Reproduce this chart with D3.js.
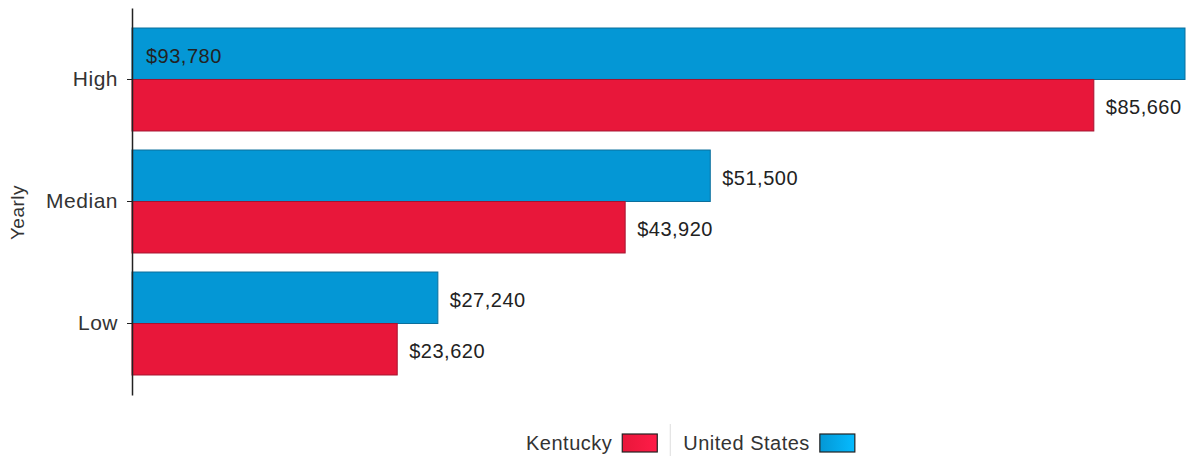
<!DOCTYPE html>
<html>
<head>
<meta charset="utf-8">
<script src="https://cdn.jsdelivr.net/npm/d3@7"></script>
<style>
  body { margin: 0; background: #fff; }
  svg text { font-family: "Liberation Sans", Arial, sans-serif; fill: #222; letter-spacing: 0.5px; }
</style>
</head>
<body>
<div id="chart"></div>
<script>
// levels on the y axis, top to bottom
var levels = ["High", "Median", "Low"]
var series = ["United States", "Kentucky"]
var usValues = [93780, 51500, 27240]
var kyValues = [85660, 43920, 23620]
var legendOrder = ["Kentucky", "United States"]

var colors = { "United States": "#0497d5", "Kentucky": "#e8173a" }
var strokes = { "United States": "#0b6f9c", "Kentucky": "#a51430" }

var width = 1190, height = 456
var margin = { top: 8, right: 5, bottom: 61, left: 132 }

var svg = d3.select("#chart").append("svg")
    .attr("width", width)
    .attr("height", height)

var defs = svg.append("defs")
series.forEach(function (s, i) {
    var g = defs.append("linearGradient").attr("id", "grad" + i)
    g.append("stop").attr("offset", "0%").attr("stop-color", colors[s])
    g.append("stop").attr("offset", "100%").attr("stop-color", d3.color(colors[s]).brighter(0.6))
})

var x = d3.scaleLinear()
    .domain([0, d3.max(usValues)])
    .range([margin.left, width - margin.right])

var y = d3.scaleBand()
    .domain(levels)
    .range([margin.top, height - margin.bottom])
    .paddingInner(0.156)
    .paddingOuter(0.164)

var y1 = d3.scaleBand()
    .domain(series)
    .range([0, y.bandwidth()])

var rows = []
levels.forEach(function (l, i) {
    rows.push({ level: l, series: "United States", value: usValues[i] })
    rows.push({ level: l, series: "Kentucky", value: kyValues[i] })
})

svg.append("g").selectAll("rect")
    .data(rows)
    .enter()
    .append("rect")
    .attr("x", x(0))
    .attr("y", function (d) { return y(d.level) + y1(d.series) })
    .attr("width", function (d) { return x(d.value) - x(0) })
    .attr("height", y1.bandwidth())
    .style("fill", function (d) { return colors[d.series] })
    .style("stroke", function (d) { return strokes[d.series] })
    .style("stroke-width", 1)

var fmt = d3.format("$,")

svg.append("g").selectAll("text")
    .data(rows)
    .enter()
    .append("text")
    .attr("x", function (d) {
        // label goes inside when it would run off the right edge
        return (x(d.value) + 90 > width) ? x(0) + 14 : x(d.value) + 12
    })
    .attr("y", function (d) { return y(d.level) + y1(d.series) + y1.bandwidth() / 2 + 2 })
    .attr("dy", "0.35em")
    .style("font-size", "20px")
    .text(function (d) { return fmt(d.value) })

var yAxis = svg.append("g")
    .attr("transform", "translate(" + margin.left + ",0)")
    .call(d3.axisLeft(y).tickSize(5).tickSizeOuter(0))

yAxis.select(".domain").attr("stroke", "#222").attr("stroke-width", 1.5)
yAxis.selectAll(".tick line").attr("stroke", "#222")
yAxis.selectAll(".tick text")
    .attr("x", -14)
    .style("font-size", "21px")
    .style("font-family", "'Liberation Sans', Arial, sans-serif")
    .style("letter-spacing", "0.5px")
    .style("fill", "#333")

svg.append("text")
    .attr("transform", "translate(24," + ((margin.top + height - margin.bottom) / 2 + 11) + ") rotate(-90)")
    .attr("text-anchor", "middle")
    .style("font-size", "19px")
    .style("fill", "#333")
    .text("Yearly")

// legend
var legend = svg.append("g")
var lx = 526, ly = 443
legendOrder.forEach(function (s, i) {
    var t = legend.append("text")
        .attr("x", lx)
        .attr("y", ly)
        .attr("dy", "0.35em")
        .style("font-size", "20px")
        .style("fill", "#333")
        .text(s)
    var w = t.node().getComputedTextLength()
    legend.append("rect")
        .attr("x", lx + w + 10)
        .attr("y", ly - 9)
        .attr("width", 35)
        .attr("height", 18)
        .style("fill", "url(#grad" + series.indexOf(s) + ")")
        .style("stroke", "#222")
        .style("stroke-width", 1.2)
    lx = lx + w + 10 + 35
    if (i < legendOrder.length - 1) {
        legend.append("line")
            .attr("x1", lx + 13).attr("x2", lx + 13)
            .attr("y1", 424).attr("y2", 456)
            .style("stroke", "#ddd")
        lx = lx + 26
    }
})
</script>
</body>
</html>
